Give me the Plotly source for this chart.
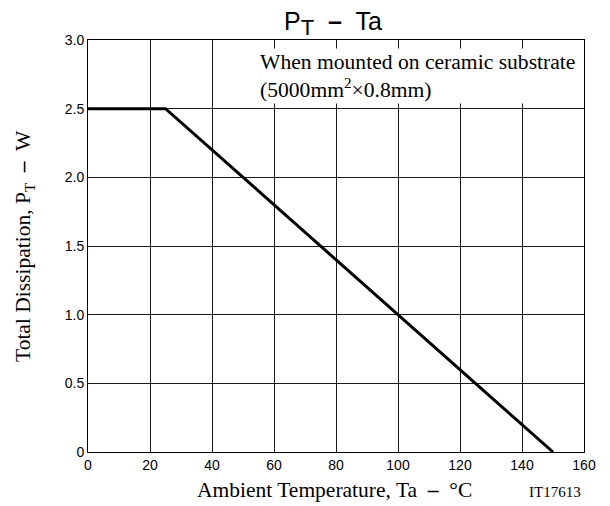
import plotly.graph_objects as go

temp_c = [0, 25, 150]
power_w = [2.5, 2.5, 0]

x_ticks = [0, 20, 40, 60, 80, 100, 120, 140, 160]
y_ticks = [0, 0.5, 1.0, 1.5, 2.0, 2.5, 3.0]
y_tick_labels = ["0", "0.5", "1.0", "1.5", "2.0", "2.5", "3.0"]

SERIF = "Liberation Serif, Times New Roman, serif"
SANS = "Liberation Sans, Arial, sans-serif"

fig = go.Figure()
fig.add_trace(go.Scatter(x=temp_c, y=power_w, mode="lines",
                         line=dict(color="black", width=3), showlegend=False))

axis_common = dict(showline=True, linecolor="black", linewidth=1, mirror=True,
                   showgrid=True, gridcolor="#1a1a1a", gridwidth=1, zeroline=False,
                   ticks="", tickfont=dict(family=SANS, size=14, color="black"))

fig.update_xaxes(range=[0, 160], tickvals=x_ticks, **axis_common)
fig.update_yaxes(range=[0, 3.0], tickvals=y_ticks, ticktext=y_tick_labels, **axis_common)

# title (plot area in page px: x 88..584, y 40..452)
fig.add_annotation(xref="paper", yref="paper", x=0.494, y=1.039, xanchor="center", yanchor="middle",
                   text="P<sub><span style='font-size:22px'>T</span></sub>  <b>–</b>  Ta", showarrow=False,
                   font=dict(family=SANS, size=25, color="black"))

# axis titles
fig.add_annotation(xref="paper", yref="paper", x=0, y=0.5, xshift=-64, xanchor="center", yanchor="middle",
                   textangle=-90, showarrow=False,
                   text="Total Dissipation, P<sub>T</sub>  <b>–</b>  W",
                   font=dict(family=SERIF, size=21.5, color="black"))
fig.add_annotation(xref="paper", yref="paper", x=0.496, y=-0.0922, xanchor="center", yanchor="middle",
                   showarrow=False, text="Ambient Temperature, Ta  <b>–</b>  °C",
                   font=dict(family=SERIF, size=21.5, color="black"))

# condition note
fig.add_annotation(xref="paper", yref="paper", x=0.3427, y=0.9806, xanchor="left", yanchor="top",
                   align="left", showarrow=False, bgcolor="white", borderpad=1,
                   text="When mounted on ceramic substrate<br>(5000mm<sup>2</sup>×0.8mm)",
                   font=dict(family=SERIF, size=21.6, color="black"))

fig.add_annotation(xref="paper", yref="paper", x=0.9415, y=-0.097, xanchor="center", yanchor="middle",
                   text="IT17613", showarrow=False,
                   font=dict(family=SERIF, size=15, color="black"))

# page body has an 8px margin, so the figure is 8px smaller and offset
fig.update_layout(width=602, height=498, margin=dict(l=80, r=26, t=32, b=54),
                  plot_bgcolor="white", paper_bgcolor="white")

fig.write_html("out.html")
